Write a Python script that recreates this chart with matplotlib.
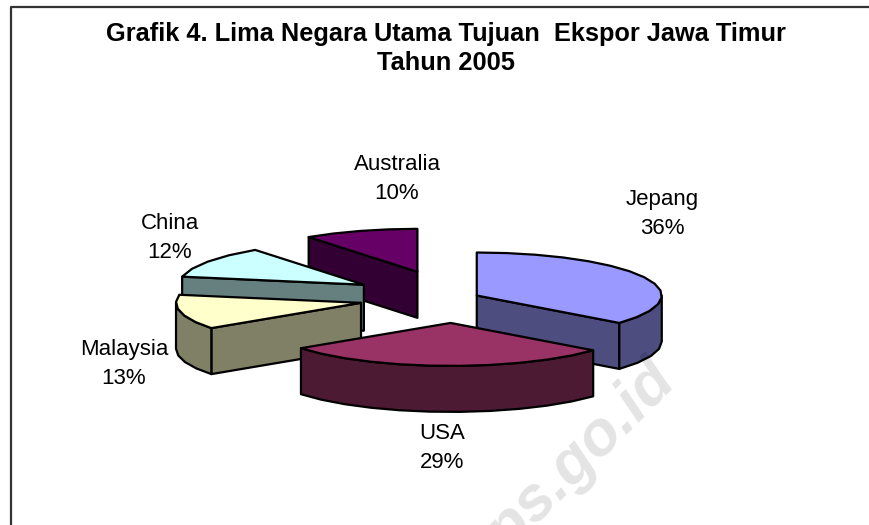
import numpy as np
import matplotlib
matplotlib.use("Agg")
import matplotlib.pyplot as plt
from matplotlib.patches import Polygon

plt.rcParams['font.family'] = ['Liberation Sans', 'DejaVu Sans']

# data
countries = ['Jepang', 'USA', 'Malaysia', 'China', 'Australia']
shares = [36, 29, 13, 12, 10]

# styles
top_colors = ['#9999FF', '#993366', '#FFFFCC', '#CCFFFF', '#660066']
side_colors = ['#4D4D80', '#4D1A33', '#808066', '#668080', '#330033']
explode = [0.136, 0.58, 0.515, 0.577, 0.64]
draw_order = [4, 0, 3, 2, 1]  # back to front
label_pos = [(662, 214), (442, 448), (124, 364), (170, 238), (397, 179)]

# pie geometry, in pixels
CX, CY = 454, 298
RX, RY = 185, 43
DEPTH = 46


def pt(ang, r=1.0, ox=0.0, oy=0.0):
    """angle in radians, clockwise from 12 o'clock"""
    return ox + RX * r * np.sin(ang), oy - RY * r * np.cos(ang)


def arc(a, b, ox, oy):
    # coarse steps, the outer edge is a bit polygonal in the original
    n = max(2, int(np.degrees(b - a) / 9) + 1)
    t = np.linspace(a, b, n)
    x, y = pt(t, 1.0, ox, oy)
    return np.column_stack([x, y])


def draw_slice(ax, a, b, mid, e, top, side):
    ox, oy = pt(mid, e, CX, CY)
    drop = np.array([0, DEPTH])
    kw = dict(edgecolor='black', linewidth=1.6, joinstyle='round')
    apex = np.array([ox, oy])

    # cut faces that look towards the viewer
    if np.sin(a) < -1e-6:
        p = np.array(pt(a, 1.0, ox, oy))
        ax.add_patch(Polygon([apex, p, p + drop, apex + drop], facecolor=side, **kw))
    if np.sin(b) > 1e-6:
        p = np.array(pt(b, 1.0, ox, oy))
        ax.add_patch(Polygon([apex, p, p + drop, apex + drop], facecolor=side, **kw))

    # outer wall, only the part between 3 and 9 o'clock shows
    lo, hi = max(a, np.pi / 2), min(b, 3 * np.pi / 2)
    if hi > lo:
        rim = arc(lo, hi, ox, oy)
        ax.add_patch(Polygon(np.vstack([rim, (rim + drop)[::-1]]), facecolor=side, **kw))

    rim = arc(a, b, ox, oy)
    ax.add_patch(Polygon(np.vstack([apex, rim]), facecolor=top, **kw))


def main():
    fig = plt.figure(figsize=(8.7, 5.25), dpi=100)
    ax = fig.add_axes([0, 0, 1, 1])
    ax.set_xlim(0, 870)
    ax.set_ylim(525, 0)
    ax.axis('off')

    # chart frame, only top and left are inside the crop
    ax.plot([870, 11, 11], [7, 7, 525], color='#333333', linewidth=1.6)

    ax.text(446, 34, 'Grafik 4. Lima Negara Utama Tujuan  Ekspor Jawa Timur', ha='center', va='center',
            fontsize=18.3, fontweight='bold')
    ax.text(446, 63, 'Tahun 2005', ha='center', va='center', fontsize=18.3, fontweight='bold')

    edges = np.radians(np.cumsum([0] + shares) / sum(shares) * 360)
    for i in draw_order:
        a, b = edges[i], edges[i + 1]
        draw_slice(ax, a, b, (a + b) / 2, explode[i], top_colors[i], side_colors[i])

    for name, share, (x, y) in zip(countries, shares, label_pos):
        ax.text(x, y, '%s\n%d%%' % (name, share), ha='center', va='center', fontsize=16, linespacing=1.5)

    # watermark sits over everything
    ax.text(568, 469, 'bps.go.id', ha='center', va='center', rotation=45, rotation_mode='anchor',
            fontsize=45, fontweight='bold', style='italic', color='black', alpha=0.11, zorder=10)

    fig.savefig('out.png', dpi=100)


if __name__ == '__main__':
    main()
